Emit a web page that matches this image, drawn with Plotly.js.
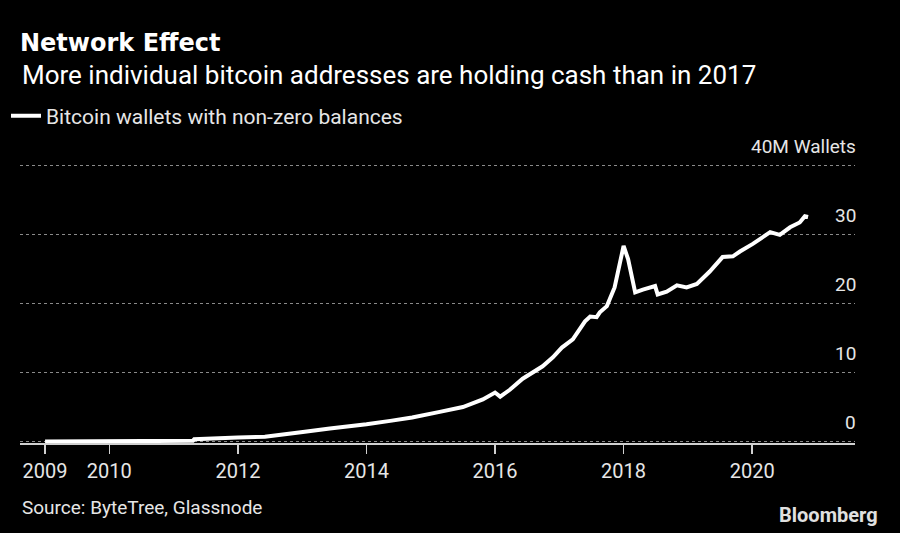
<!DOCTYPE html>
<html>
<head>
<meta charset="utf-8">
<script src="https://cdn.plot.ly/plotly-3.0.1.min.js"></script>
<style>html,body{margin:0;padding:0;background:#000;}#chart{width:900px;height:533px;}</style>
</head>
<body>
<div id="chart"></div>
<script>
// Decimal years
const years = [2009.0, 2009.5, 2010.0, 2010.5, 2011.0, 2011.3, 2011.32, 2011.69, 2012.0, 2012.42, 2012.7, 2013.01, 2013.43, 2013.74, 2014.0, 2014.37, 2014.71, 2015.14, 2015.5, 2015.81, 2016.0, 2016.08, 2016.23, 2016.43, 2016.54, 2016.74, 2016.9, 2017.04, 2017.21, 2017.4, 2017.48, 2017.58, 2017.63, 2017.74, 2017.86, 2017.94, 2018.0, 2018.07, 2018.13, 2018.18, 2018.3, 2018.49, 2018.53, 2018.67, 2018.83, 2018.98, 2019.14, 2019.34, 2019.54, 2019.7, 2019.81, 2020.01, 2020.28, 2020.43, 2020.59, 2020.74, 2020.82, 2020.87];
// Wallets with non-zero balances, millions
const wallets = [0.0, 0.02, 0.05, 0.08, 0.1, 0.12, 0.35, 0.55, 0.6, 0.7, 1.1, 1.4, 1.9, 2.2, 2.5, 3.0, 3.5, 4.3, 5.0, 6.1, 7.1, 6.5, 7.5, 9.1, 9.7, 10.9, 12.2, 13.6, 14.8, 17.4, 18.1, 18.0, 18.7, 19.6, 22.3, 25.9, 28.3, 26.4, 23.9, 21.6, 22.0, 22.5, 21.3, 21.7, 22.6, 22.3, 22.8, 24.6, 26.7, 26.8, 27.5, 28.6, 30.3, 29.9, 31.0, 31.7, 32.6, 32.5];

const xTickVals = [2009, 2010, 2012, 2014, 2016, 2018, 2020];
const xTickText = ['2009', '2010', '2012', '2014', '2016', '2018', '2020'];
const yTickVals = [0, 10, 20, 30, 40];
const yTickText = ['0', '10', '20', '30', '40M Wallets'];

const FONT = 'Roboto, "Noto Sans", sans-serif';
const TFONT = '"DejaVu Sans", Verdana, sans-serif';
const TXT = '#e6e6e6';

// plot area geometry (pixels)
const L = 20, R = 855, T = 134, B = 443;
const W = R - L, H = B - T;
const px = v => (v - L) / W;
const py = v => (B - v) / H;

const trace = {
  x: years, y: wallets, type: 'scatter', mode: 'lines',
  name: 'Bitcoin wallets with non-zero balances',
  line: {color: '#ffffff', width: 4}
};

// y-axis labels sit above their gridlines, right-aligned (Bloomberg style)
const yLabelAnnotations = yTickVals.map((v, i) => ({
  text: yTickText[i], xref: 'paper', yref: 'y', x: 1, y: v,
  xanchor: 'right', yanchor: 'middle', xshift: 3, yshift: 19,
  showarrow: false, font: {family: FONT, size: 19, color: TXT}
}));

const layout = {
  width: 900, height: 533,
  paper_bgcolor: '#000000', plot_bgcolor: '#000000',
  margin: {l: L, r: 900 - R, t: T, b: 533 - B, autoexpand: false},
  font: {family: FONT, color: TXT},
  title: {
    text: '<b>Network Effect</b>',
    font: {family: TFONT, size: 24, color: '#ffffff'},
    x: 20/900, xref: 'container', xanchor: 'left',
    y: 1 - 43/533, yref: 'container', yanchor: 'middle'
  },
  showlegend: true,
  legend: {
    x: 6/900, xref: 'container', xanchor: 'left',
    y: 1 - 116/533, yref: 'container', yanchor: 'middle',
    font: {family: FONT, size: 21, color: TXT},
    bgcolor: 'rgba(0,0,0,0)'
  },
  xaxis: {
    range: [2008.61, 2021.6],
    tickvals: xTickVals, ticktext: xTickText, tickangle: 0,
    showgrid: false, zeroline: false,
    showline: true, linecolor: '#d0d0d0', linewidth: 1.5,
    ticks: 'outside', ticklen: 9, tickwidth: 1.5, tickcolor: '#d0d0d0',
    tickfont: {family: FONT, size: 20, color: TXT}
  },
  yaxis: {
    range: [-0.2, 44.5],
    side: 'right',
    tickvals: yTickVals, showticklabels: false,
    showgrid: true, gridcolor: '#8a8a8a', griddash: 'dot', gridwidth: 1,
    zeroline: false, showline: false, ticks: ''
  },
  annotations: [
    {text: 'More individual bitcoin addresses are holding cash than in 2017',
     xref: 'paper', yref: 'paper', x: px(20), y: py(75), xanchor: 'left', yanchor: 'middle',
     showarrow: false, font: {family: FONT, size: 26, color: '#ffffff'}},
    {text: 'Source: ByteTree, Glassnode',
     xref: 'paper', yref: 'paper', x: px(20), y: py(507), xanchor: 'left', yanchor: 'middle',
     showarrow: false, font: {family: FONT, size: 19, color: TXT}},
    {text: '<b>Bloomberg</b>',
     xref: 'paper', yref: 'paper', x: px(880), y: py(515), xanchor: 'right', yanchor: 'middle',
     showarrow: false, font: {family: FONT, size: 20, color: '#e0e0e0'}}
  ].concat(yLabelAnnotations)
};

Plotly.newPlot('chart', [trace], layout, {displayModeBar: false, staticPlot: true});
</script>
</body>
</html>
